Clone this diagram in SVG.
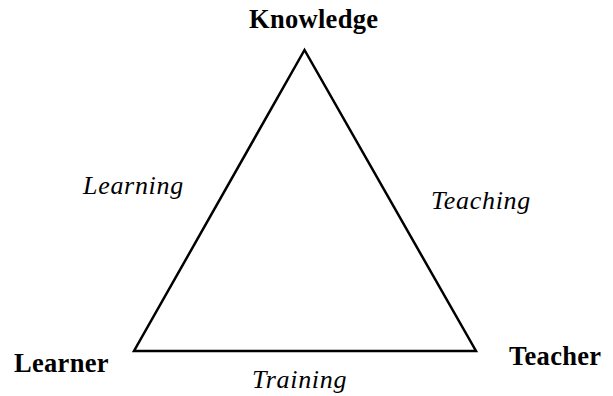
<svg xmlns="http://www.w3.org/2000/svg" width="613" height="396" viewBox="0 0 613 396">
<style>
.node{font-family:"Liberation Serif","Times New Roman",serif;font-weight:bold;font-size:26.5px;letter-spacing:0.3px;fill:#000}
.edge{font-family:"Liberation Serif","Times New Roman",serif;font-style:italic;font-size:26px;letter-spacing:0.7px;fill:#000}
.tri{fill:none;stroke:#000;stroke-width:2.5;stroke-linejoin:miter}
</style>
<rect width="613" height="396" fill="#fff"/>
<g id="connectors">
<polygon class="tri" points="304.5,50 134,351 476,351"/>
<text class="edge" x="83" y="194">Learning</text>
<text class="edge" x="431" y="209">Teaching</text>
<text class="edge" x="252" y="388">Training</text>
</g>
<g id="knowledge"><text class="node" x="249" y="28">Knowledge</text></g>
<g id="learner"><text class="node" x="14" y="372">Learner</text></g>
<g id="teacher"><text class="node" x="509" y="365">Teacher</text></g>
</svg>
